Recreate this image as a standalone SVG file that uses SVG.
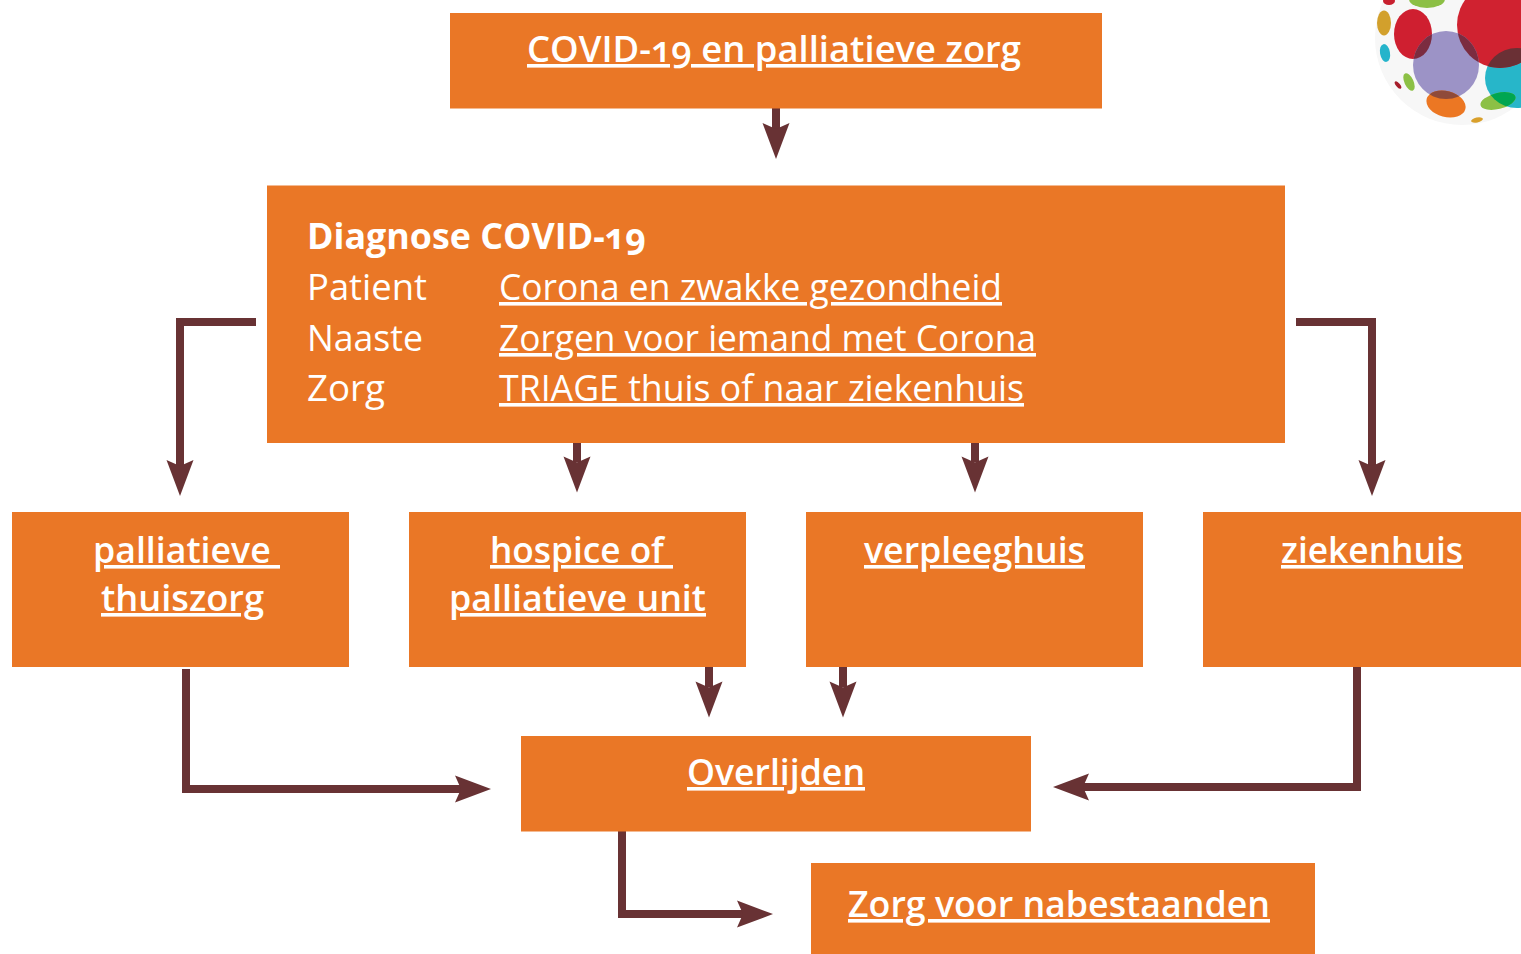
<svg xmlns="http://www.w3.org/2000/svg" width="1521" height="954" viewBox="0 0 1521 954">
<style>
.box{fill:#ea7726}
.c{fill:none;stroke:#683234;stroke-width:8;marker-end:url(#ah)}
text{font-family:"Open Sans","Noto Sans",sans-serif;fill:#fff;font-size:36px;white-space:pre;font-variant-numeric:oldstyle-nums}
.h{font-weight:600;text-decoration:underline}
.b{font-weight:700}
.u{text-decoration:underline}
</style>
<defs>
<marker id="ah" markerUnits="userSpaceOnUse" markerWidth="40" markerHeight="30" refX="6" refY="15" orient="auto" overflow="visible"><path d="M0,1.500 L36,15 L0,28.500 L6,15Z" fill="#683234"/></marker>
<clipPath id="cRed"><circle cx="1500" cy="25" r="43"/></clipPath>
<clipPath id="cPurple"><ellipse cx="1446" cy="65" rx="33" ry="34"/></clipPath>
<clipPath id="cCyan"><ellipse cx="1517" cy="78" rx="32" ry="30"/></clipPath>
</defs>
<rect width="1521" height="954" fill="#fff"/>
<g id="logo">
<circle cx="1462" cy="38" r="87" fill="#f7f7f7"/>
<ellipse cx="1389" cy="1" rx="6" ry="4" fill="#c8202f"/>
<ellipse cx="1427" cy="-1" rx="18" ry="9" fill="#8cbf45"/>
<ellipse cx="1384" cy="23" rx="7" ry="12.500" fill="#d2a02c"/>
<ellipse cx="1385" cy="53" rx="5" ry="9" transform="rotate(-10 1385 53)" fill="#25b4cb"/>
<ellipse cx="1413" cy="34" rx="19" ry="25" fill="#cf1f30"/>
<ellipse cx="1517" cy="78" rx="32" ry="30" fill="#27b6c9"/>
<circle cx="1500" cy="25" r="43" fill="#d02230"/>
<ellipse cx="1517" cy="78" rx="32" ry="30" fill="#6a3035" clip-path="url(#cRed)"/>
<ellipse cx="1446" cy="65" rx="33" ry="34" fill="#9c93c6"/>
<ellipse cx="1413" cy="34" rx="19" ry="25" fill="#7b2c40" clip-path="url(#cPurple)"/>
<circle cx="1500" cy="25" r="43" fill="#7b2c40" clip-path="url(#cPurple)"/>
<ellipse cx="1446" cy="104" rx="20" ry="13" transform="rotate(15 1446 104)" fill="#ec7723"/>
<g clip-path="url(#cPurple)"><ellipse cx="1446" cy="104" rx="20" ry="13" transform="rotate(15 1446 104)" fill="#8f4a3a"/></g>
<ellipse cx="1498" cy="101" rx="18" ry="8" transform="rotate(-14 1498 101)" fill="#8cc045"/>
<g clip-path="url(#cCyan)"><ellipse cx="1498" cy="101" rx="18" ry="8" transform="rotate(-14 1498 101)" fill="#00a651"/></g>
<ellipse cx="1409" cy="82" rx="4.500" ry="9.500" transform="rotate(-25 1409 82)" fill="#8cc045"/>
<ellipse cx="1398" cy="85" rx="2" ry="4.500" transform="rotate(-40 1398 85)" fill="#a51c2a"/>
<ellipse cx="1477" cy="120" rx="6" ry="2.500" transform="rotate(-12 1477 120)" fill="#d9a02c"/>
</g>
<g id="connectors">
<path class="c" d="M776,108V129"/>
<path class="c" d="M256,322H180V466"/>
<path class="c" d="M1296,322H1372V466"/>
<path class="c" d="M577,443V462.500"/>
<path class="c" d="M975,443V462.500"/>
<path class="c" d="M709,667V687.500"/>
<path class="c" d="M843,667V687.500"/>
<path class="c" d="M186,669V789H461"/>
<path class="c" d="M1357,667V787H1083"/>
<path class="c" d="M622,831V914H743"/>
</g>
<g id="n-title"><rect class="box" x="450" y="13" width="652" height="95.500"/>
<text class="h" x="527" y="62" textLength="494" lengthAdjust="spacingAndGlyphs">COVID-19 en palliatieve zorg</text></g>
<g id="n-diagnose"><rect class="box" x="267" y="185.500" width="1018" height="257.500"/>
<text class="b" x="307" y="249" textLength="339" lengthAdjust="spacingAndGlyphs">Diagnose COVID-19</text>
<text x="307" y="300" textLength="120" lengthAdjust="spacingAndGlyphs">Patient</text>
<text class="u" x="499" y="300" textLength="503" lengthAdjust="spacingAndGlyphs">Corona en zwakke gezondheid</text>
<text x="307" y="351" textLength="116" lengthAdjust="spacingAndGlyphs">Naaste</text>
<text class="u" x="499" y="351" textLength="537" lengthAdjust="spacingAndGlyphs">Zorgen voor iemand met Corona</text>
<text x="307" y="401" textLength="78" lengthAdjust="spacingAndGlyphs">Zorg</text>
<text class="u" x="499" y="401" textLength="525" lengthAdjust="spacingAndGlyphs">TRIAGE thuis of naar ziekenhuis</text></g>
<g id="n-thuiszorg"><rect class="box" x="12" y="512" width="337" height="155"/>
<text class="h" x="93" y="563" textLength="187" lengthAdjust="spacingAndGlyphs">palliatieve </text>
<text class="h" x="101" y="611" textLength="163" lengthAdjust="spacingAndGlyphs">thuiszorg</text></g>
<g id="n-hospice"><rect class="box" x="409" y="512" width="337" height="155"/>
<text class="h" x="490" y="563" textLength="183" lengthAdjust="spacingAndGlyphs">hospice of </text>
<text class="h" x="449" y="611" textLength="257" lengthAdjust="spacingAndGlyphs">palliatieve unit</text></g>
<g id="n-verpleeghuis"><rect class="box" x="806" y="512" width="337" height="155"/>
<text class="h" x="864" y="563" textLength="221" lengthAdjust="spacingAndGlyphs">verpleeghuis</text></g>
<g id="n-ziekenhuis"><rect class="box" x="1203" y="512" width="318" height="155"/>
<text class="h" x="1281" y="563" textLength="182" lengthAdjust="spacingAndGlyphs">ziekenhuis</text></g>
<g id="n-overlijden"><rect class="box" x="521" y="736" width="510" height="95.500"/>
<text class="h" x="687" y="785" textLength="178" lengthAdjust="spacingAndGlyphs">Overlijden</text></g>
<g id="n-nabestaanden"><rect class="box" x="811" y="863" width="504" height="91"/>
<text class="h" x="848" y="917" textLength="422" lengthAdjust="spacingAndGlyphs">Zorg voor nabestaanden</text></g>
</svg>
